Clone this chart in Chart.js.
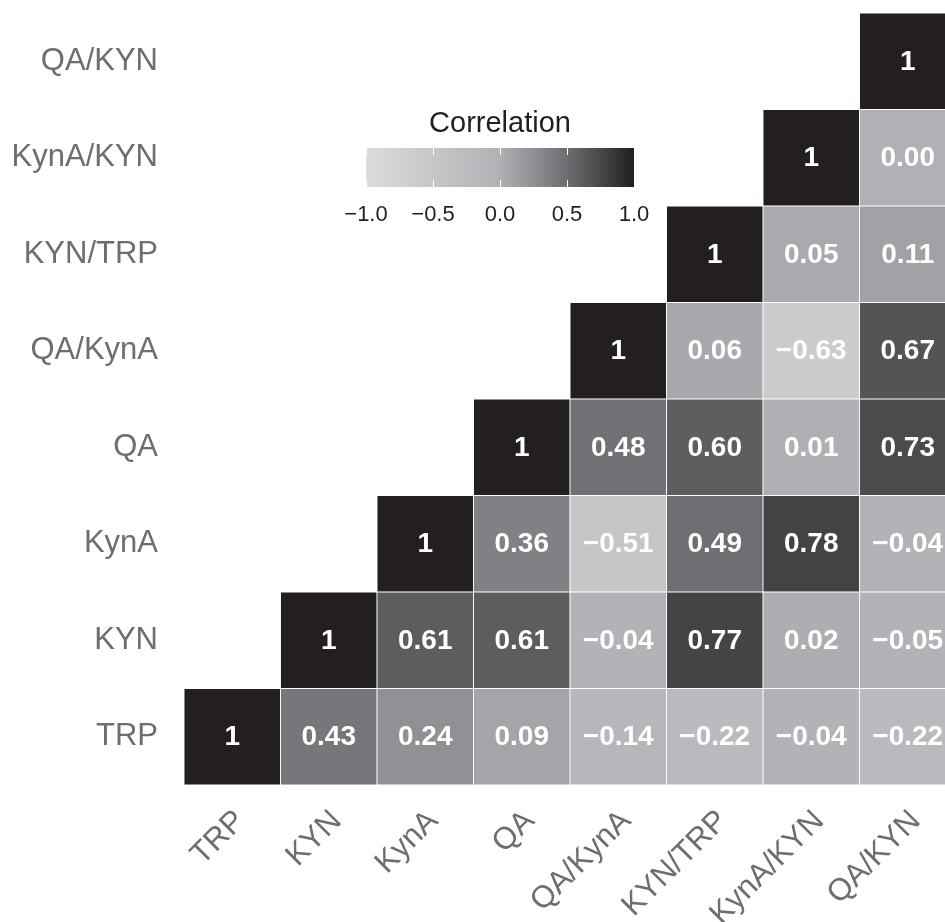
<!DOCTYPE html>
<html>
<head>
<meta charset="utf-8">
<script src="https://cdn.jsdelivr.net/npm/chart.js@4/dist/chart.umd.min.js"></script>
<style>
  html, body { margin: 0; padding: 0; background: #fff; overflow: hidden; }
  #wrap { width: 980px; height: 922px; }
</style>
</head>
<body>
<div id="wrap"><canvas id="corrChart"></canvas></div>
<script>
// variables, bottom row / left column first
const variables = ['TRP', 'KYN', 'KynA', 'QA', 'QA/KynA', 'KYN/TRP', 'KynA/KYN', 'QA/KYN'];

// one array per row, values by column (null = not shown)
const corrTRP     = [1, 0.43, 0.24, 0.09, -0.14, -0.22, -0.04, -0.22];
const corrKYN     = [null, 1, 0.61, 0.61, -0.04, 0.77, 0.02, -0.05];
const corrKynA    = [null, null, 1, 0.36, -0.51, 0.49, 0.78, -0.04];
const corrQA      = [null, null, null, 1, 0.48, 0.60, 0.01, 0.73];
const corrQAKynA  = [null, null, null, null, 1, 0.06, -0.63, 0.67];
const corrKYNTRP  = [null, null, null, null, null, 1, 0.05, 0.11];
const corrKynAKYN = [null, null, null, null, null, null, 1, 0.00];
const corrQAKYN   = [null, null, null, null, null, null, null, 1];

const rows = [corrTRP, corrKYN, corrKynA, corrQA, corrQAKynA, corrKYNTRP, corrKynAKYN, corrQAKYN];

const legendTicks = [-1.0, -0.5, 0.0, 0.5, 1.0];

// grey scale, light for -1, dark for +1
const colorStops = [
    [-1.0, [220, 221, 223]],
    [-0.5, [197, 198, 200]],
    [0.0, [176, 177, 180]],
    [0.5, [109, 110, 113]],
    [1.0, [35, 31, 32]]
];

function colorFor(v) {
    if (v === null) return 'rgba(0,0,0,0)';
    for (let i = 0; i < colorStops.length - 1; i++) {
        const [a, ca] = colorStops[i];
        const [b, cb] = colorStops[i + 1];
        if (v <= b) {
            const t = (v - a) / (b - a);
            const c = ca.map((x, k) => Math.round(x + t * (cb[k] - x)));
            return 'rgb(' + c.join(',') + ')';
        }
    }
    return 'rgb(35,31,32)';
}

function fmt(v, diag) {
    if (diag) return '1';
    const s = Math.abs(v).toFixed(2);
    return v < 0 ? '\u2212' + s : s;
}

const FONT = '"Liberation Sans", Arial, Helvetica, sans-serif';

const cellLabels = {
    id: 'cellLabels',
    afterDatasetsDraw(chart) {
        const ctx = chart.ctx;
        ctx.save();
        ctx.fillStyle = '#ffffff';
        ctx.font = 'bold 28px ' + FONT;
        ctx.textAlign = 'center';
        ctx.textBaseline = 'middle';
        chart.data.datasets.forEach((ds, i) => {
            const meta = chart.getDatasetMeta(i);
            meta.data.forEach((bar, j) => {
                const v = ds.corr[j];
                if (v === null) return;
                const cy = (bar.y + bar.base) / 2;
                ctx.fillText(fmt(v, i === j), bar.x, cy + 1);
            });
        });
        ctx.restore();
    }
};

const colorLegend = {
    id: 'colorLegend',
    afterDraw(chart) {
        const ctx = chart.ctx;
        const x0 = 366, x1 = 634, y0 = 148, y1 = 187;
        ctx.save();
        const grad = ctx.createLinearGradient(x0, 0, x1, 0);
        colorStops.forEach(([v]) => {
            grad.addColorStop((v + 1) / 2, colorFor(v));
        });
        ctx.fillStyle = grad;
        ctx.fillRect(x0, y0, x1 - x0, y1 - y0);

        ctx.strokeStyle = '#ffffff';
        ctx.lineWidth = 1;
        legendTicks.forEach(t => {
            const x = Math.round(x0 + (t + 1) / 2 * (x1 - x0)) + 0.5;
            ctx.beginPath();
            ctx.moveTo(x, y0); ctx.lineTo(x, y0 + 7);
            ctx.moveTo(x, y1 - 7); ctx.lineTo(x, y1);
            ctx.stroke();
        });

        ctx.fillStyle = '#231f20';
        ctx.textAlign = 'center';
        ctx.textBaseline = 'middle';
        ctx.font = '29px ' + FONT;
        ctx.fillText('Correlation', (x0 + x1) / 2, 124);
        ctx.font = '22px ' + FONT;
        legendTicks.forEach(t => {
            const x = x0 + (t + 1) / 2 * (x1 - x0);
            const s = t.toFixed(1);
            ctx.fillText(t < 0 ? '\u2212' + s.slice(1) : s, x, 215);
        });
        ctx.restore();
    }
};

const datasets = rows.map((corr, i) => ({
    label: variables[i],
    corr: corr,
    data: corr.map(v => v === null ? null : [i - 0.5, i + 0.5]),
    backgroundColor: corr.map(colorFor),
    borderColor: '#ffffff',
    borderWidth: 0.8,
    borderSkipped: false,
    grouped: false,
    barPercentage: 1,
    categoryPercentage: 1
}));

new Chart(document.getElementById('corrChart'), {
    type: 'bar',
    data: { labels: variables, datasets: datasets },
    options: {
        responsive: true,
        maintainAspectRatio: false,
        animation: false,
        layout: { padding: { top: 13, right: 24, left: 0, bottom: 0 } },
        plugins: {
            legend: { display: false },
            tooltip: { enabled: false }
        },
        scales: {
            x: {
                type: 'category',
                grid: { display: false, drawTicks: false },
                border: { display: false },
                ticks: {
                    color: '#6d6e71',
                    font: { family: FONT, size: 31 },
                    minRotation: 45,
                    maxRotation: 45,
                    autoSkip: false,
                    padding: 18,
                    labelOffset: 8
                },
                afterFit(scale) {
                    scale.height = 137;
                    scale.paddingLeft = 0;
                    scale.paddingRight = 0;
                    scale.paddingTop = 0;
                    scale.paddingBottom = 0;
                }
            },
            y: {
                type: 'linear',
                min: -0.5,
                max: 7.5,
                grid: { display: false, drawTicks: false },
                border: { display: false },
                afterBuildTicks(scale) {
                    scale.ticks = variables.map((_, i) => ({ value: i }));
                },
                ticks: {
                    color: '#6d6e71',
                    font: { family: FONT, size: 31 },
                    padding: 26,
                    callback: v => variables[v]
                },
                afterFit(scale) {
                    scale.width = 184;
                    scale.paddingLeft = 0;
                    scale.paddingRight = 0;
                    scale.paddingTop = 0;
                    scale.paddingBottom = 0;
                }
            }
        }
    },
    plugins: [cellLabels, colorLegend]
});
</script>
</body>
</html>
